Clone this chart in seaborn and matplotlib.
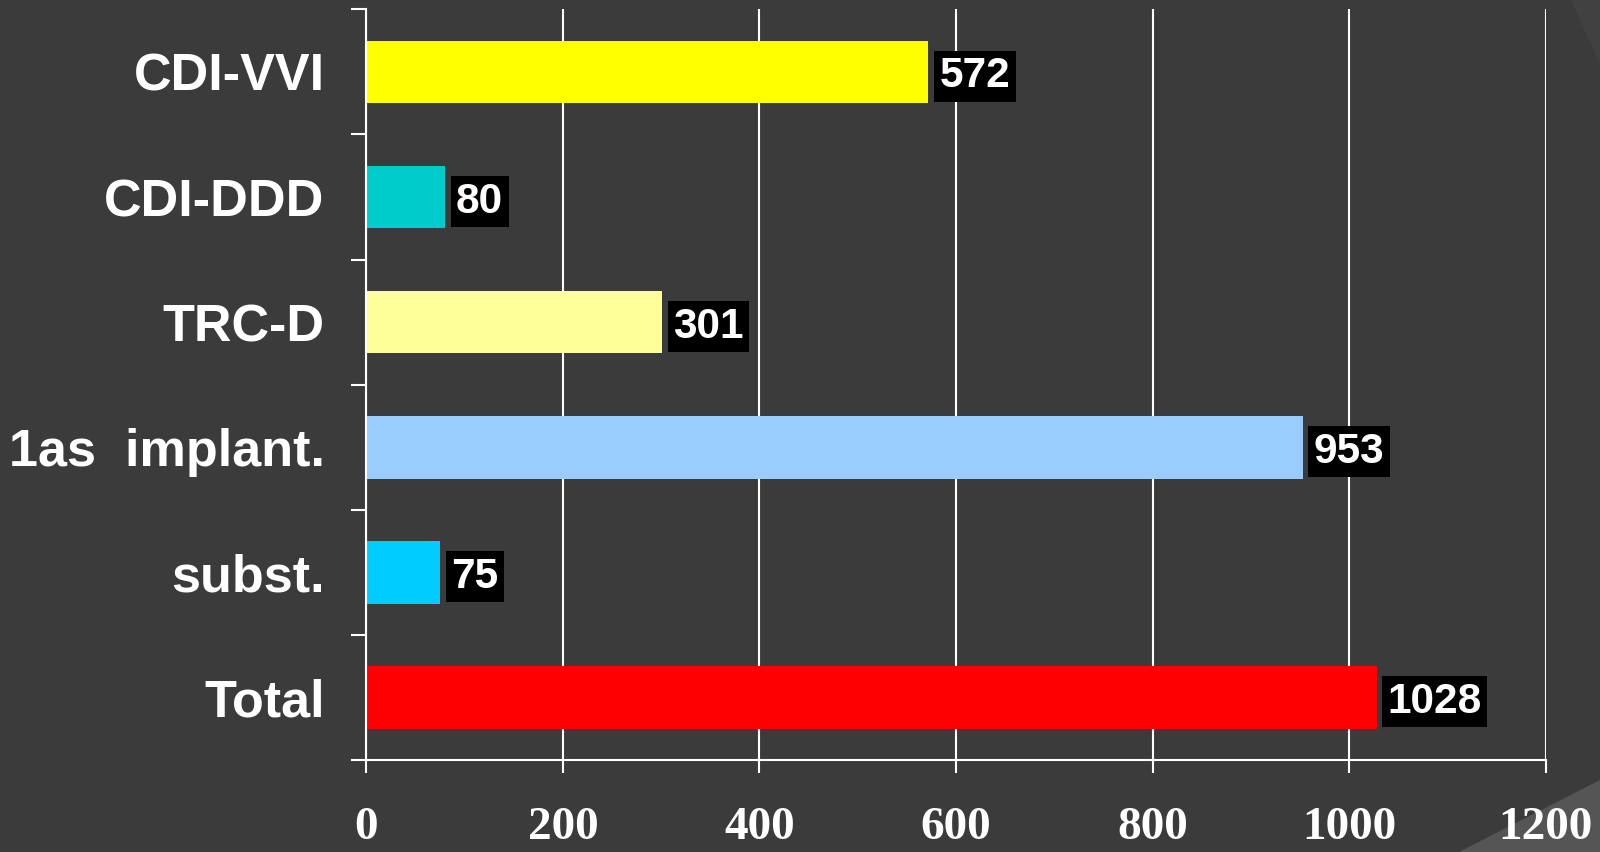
import numpy as np
import pandas as pd
import matplotlib
matplotlib.use("Agg")
import matplotlib.pyplot as plt
import seaborn as sns
from matplotlib.patches import Polygon

# dados
categorias = ["CDI-VVI", "CDI-DDD", "TRC-D", "1as  implant.", "subst.", "Total"]
valores = [572, 80, 301, 953, 75, 1028]
cores = ["#FFFF00", "#00CCCC", "#FFFF99", "#99CCFF", "#00CCFF", "#FF0000"]
xticks = [0, 200, 400, 600, 800, 1000, 1200]

df = pd.DataFrame({"categoria": categorias, "valor": valores})

fundo = "#3b3b3b"
sns.set_style("dark")
fig = plt.figure(figsize=(16, 8.52), dpi=100, facecolor=fundo)

# cantos decorativos (atrás do gráfico)
fig.patches.append(Polygon([[0.982, 1.0], [1.0, 1.0], [1.0, 0.925]], closed=True,
                           transform=fig.transFigure, facecolor="#414141", edgecolor="none",
                           zorder=-5))
fig.patches.append(Polygon([[0.912, 0.0], [1.0, 0.0], [1.0, 0.085]], closed=True,
                           transform=fig.transFigure, facecolor="#555555", edgecolor="none",
                           zorder=-5))

ax = fig.add_axes([0.229, 0.108, 0.737, 0.881])
ax.set_facecolor(fundo)
ax.patch.set_alpha(0)

sns.barplot(data=df, x="valor", y="categoria", hue="categoria", palette=cores,
            orient="h", width=0.5, saturation=1, legend=False, linewidth=0, ax=ax)

# rótulos de valor
for cont in ax.containers:
    rotulos = ax.bar_label(cont, padding=8, color="white", fontsize=30.5, fontweight="bold",
                           family="Liberation Sans",
                           bbox=dict(facecolor="black", edgecolor="none", pad=4))
    for r in rotulos:
        r.set_va("center_baseline")

ax.set_xlim(0, 1200)
ax.set_ylim(5.5, -0.5)
ax.set_xticks(xticks)
ax.set_xticklabels([str(v) for v in xticks])
ax.set_xlabel("")
ax.set_ylabel("")

ax.grid(axis="x", color="white", linewidth=1.5)
ax.grid(axis="y", visible=False)
ax.set_axisbelow(True)

for lado in ["top", "right"]:
    ax.spines[lado].set_visible(False)
for lado in ["left", "bottom"]:
    ax.spines[lado].set_color("white")
    ax.spines[lado].set_linewidth(1.5)

ax.set_yticks(np.arange(-0.5, 6.0, 1.0), minor=True)
ax.tick_params(axis="y", which="major", length=0, pad=30)
ax.tick_params(axis="y", which="minor", length=11, width=1.5, color="white", direction="out", left=True)
ax.tick_params(axis="x", which="major", length=9.5, width=1.5, color="white", direction="out",
               pad=24, bottom=True)

for t in ax.get_yticklabels():
    t.set_fontsize(37.5)
    t.set_fontweight("bold")
    t.set_color("white")
    t.set_family("Liberation Sans")
for t in ax.get_xticklabels():
    t.set_fontsize(34)
    t.set_fontweight("bold")
    t.set_color("white")
    t.set_family("Liberation Serif")

fig.savefig("out.png", dpi=100, facecolor=fundo)
